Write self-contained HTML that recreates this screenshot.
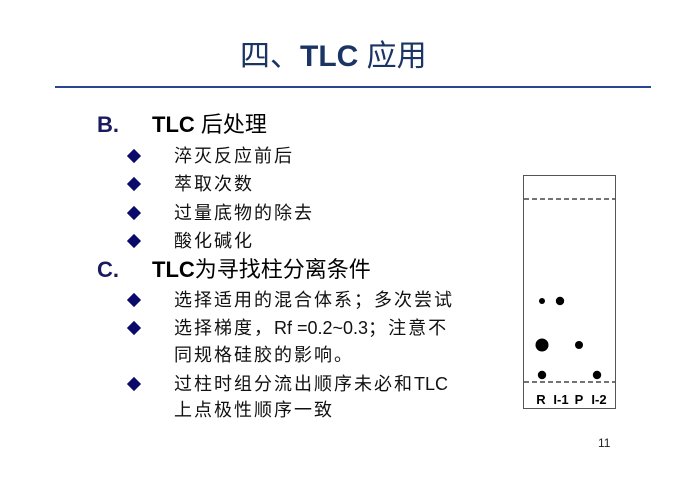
<!DOCTYPE html>
<html><head><meta charset="utf-8"><style>
body{margin:0;width:700px;height:495px;background:#fff;position:relative;overflow:hidden;font-family:"Liberation Sans","Noto Sans CJK SC",sans-serif;}
.t{position:absolute;white-space:nowrap;line-height:1;}
.title{left:240px;top:42px;font-size:30px;color:#1a3463;}
.hr{position:absolute;left:55px;top:86px;width:596px;height:2px;background:#2a4690;}
.h{font-size:22px;color:#000;}
.hl{font-size:22px;font-weight:bold;color:#1a1a5e;}
.s{font-size:18px;letter-spacing:2px;color:#111;left:174px;}
.s i{font-style:normal;letter-spacing:0;}
.d{position:absolute;left:129px;width:10px;height:10px;background:#0a0a6a;transform:rotate(45deg);}
</style></head><body>
<div class="t title">四、<b>TLC</b> 应用</div>
<div class="hr"></div>
<div class="t hl" style="left:97px;top:114px">B.</div>
<div class="t h" style="left:152px;top:114px"><b>TLC</b> 后处理</div>
<div class="d" style="top:151px"></div><div class="t s" style="top:147px">淬灭反应前后</div>
<div class="d" style="top:179px"></div><div class="t s" style="top:175px">萃取次数</div>
<div class="d" style="top:208px"></div><div class="t s" style="top:204px">过量底物的除去</div>
<div class="d" style="top:236px"></div><div class="t s" style="top:232px">酸化碱化</div>
<div class="t hl" style="left:97px;top:259px">C.</div>
<div class="t h" style="left:152px;top:259px"><b>TLC</b>为寻找柱分离条件</div>
<div class="d" style="top:295px"></div><div class="t s" style="top:291px">选择适用的混合体系；多次尝试</div>
<div class="d" style="top:323px"></div><div class="t s" style="top:319px">选择梯度，<i>Rf =0.2~0.3</i>；注意不</div>
<div class="t s" style="top:346px">同规格硅胶的影响。</div>
<div class="d" style="top:379px"></div><div class="t s" style="top:375px">过柱时组分流出顺序未必和<i>TLC</i></div>
<div class="t s" style="top:401px">上点极性顺序一致</div>
<div class="t" style="left:598px;top:437px;font-size:12px;color:#222">11</div>
<svg style="position:absolute;left:0;top:0" width="700" height="495">
<rect x="523.5" y="175.5" width="92" height="233" fill="none" stroke="#555" stroke-width="1"/>
<line x1="524" y1="199" x2="615" y2="199" stroke="#222" stroke-width="1.3" stroke-dasharray="5,3"/>
<line x1="524" y1="382" x2="615" y2="382" stroke="#222" stroke-width="1.3" stroke-dasharray="5,3"/>
<g fill="#000">
<circle cx="542" cy="301" r="3"/><circle cx="560" cy="301" r="4.2"/>
<circle cx="542" cy="345" r="6.5"/><circle cx="579" cy="345" r="4"/>
<circle cx="542" cy="375" r="4.2"/><circle cx="597" cy="375" r="4.2"/>
</g>
<g font-family="Liberation Sans" font-weight="bold" font-size="13" text-anchor="middle" fill="#000">
<text x="541" y="404">R</text><text x="561" y="404">I-1</text><text x="579" y="404">P</text><text x="599" y="404">I-2</text>
</g>
</svg>
</body></html>
